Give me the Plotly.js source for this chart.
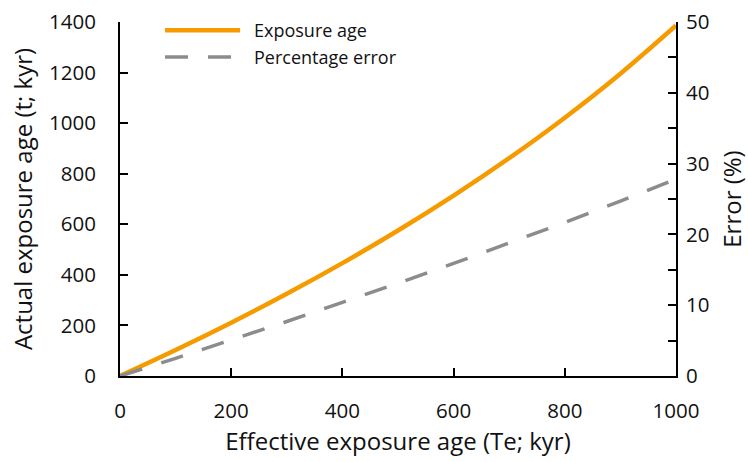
<!DOCTYPE html>
<html>
<head>
<meta charset="utf-8">
<script src="https://cdn.plot.ly/plotly-3.0.1.min.js"></script>
<style>
  html, body { margin: 0; padding: 0; background: #fff; }
  #chart { width: 748px; height: 462px; }
</style>
</head>
<body>
<div id="chart"></div>
<script>
// Effective exposure age (Te; kyr)
const effectiveAge = [0, 100, 200, 300, 400, 500, 600, 700, 800, 900, 1000];
// Actual exposure age (t; kyr)
const actualAge = [0, 102.6, 210.7, 325.0, 446.3, 575.3, 713.3, 861.5, 1021.5, 1195.5, 1386.0];
// Percentage error (%)
const percentError = [0, 2.5, 5.1, 7.7, 10.4, 13.1, 15.9, 18.8, 21.7, 24.7, 27.8];

const seriesNames = ['Exposure age', 'Percentage error'];
const xTicks = [0, 200, 400, 600, 800, 1000];
const yTicks = [0, 200, 400, 600, 800, 1000, 1200, 1400];
const y2Ticks = [0, 10, 20, 30, 40, 50];

const ORANGE = '#F59B00';
const GREY = '#8C8C8C';
const FONT = 'Open Sans, Noto Sans, sans-serif';
const TEXT = '#111';

const traces = [
  {
    x: effectiveAge, y: actualAge, name: seriesNames[0],
    type: 'scatter', mode: 'lines',
    line: { color: ORANGE, width: 4.5, shape: 'spline' },
    yaxis: 'y', showlegend: false, hoverinfo: 'skip'
  },
  {
    x: effectiveAge, y: percentError, name: seriesNames[1],
    type: 'scatter', mode: 'lines',
    line: { color: GREY, width: 3.5, dash: '23px,20px', shape: 'spline' },
    yaxis: 'y2', showlegend: false, hoverinfo: 'skip'
  }
];

const axisCommon = {
  showgrid: false, zeroline: false,
  showline: true, linecolor: '#000', linewidth: 2,
  ticks: 'inside', ticklen: 8, tickwidth: 2, tickcolor: '#000',
  tickfont: { family: FONT, size: 20.5, color: TEXT }
};
const titleFont = { family: FONT, size: 24, color: TEXT };

const layout = {
  width: 748, height: 462,
  margin: { l: 120, r: 72, t: 22, b: 86 },
  paper_bgcolor: '#fff', plot_bgcolor: '#fff',
  font: { family: FONT, color: TEXT },
  showlegend: false,
  xaxis: Object.assign({}, axisCommon, {
    range: [0, 1000], tickvals: xTicks, ticklabelstandoff: 15,
    title: { text: 'Effective exposure age (Te; kyr)', font: titleFont, standoff: 8 }
  }),
  yaxis: Object.assign({}, axisCommon, {
    range: [0, 1400], tickvals: yTicks, ticklabelstandoff: 18,
    title: { text: 'Actual exposure age (t; kyr)', font: titleFont, standoff: 10 }
  }),
  yaxis2: Object.assign({}, axisCommon, {
    overlaying: 'y', side: 'right', anchor: 'x',
    range: [0, 50], tickvals: y2Ticks, ticklabelstandoff: 4,
    minor: { dtick: 5, ticks: 'inside', ticklen: 8, tickwidth: 2, tickcolor: '#000' },
    title: { text: 'Error (%)', font: titleFont, standoff: 16 }
  }),
  // legend drawn as line samples with labels beside them
  shapes: [
    { type: 'line', xref: 'paper', yref: 'paper', x0: 0.081, x1: 0.216, y0: 0.977, y1: 0.977,
      line: { color: ORANGE, width: 4.5 } },
    { type: 'line', xref: 'paper', yref: 'paper', x0: 0.081, x1: 0.216, y0: 0.901, y1: 0.901,
      line: { color: GREY, width: 3.5, dash: '23px,20px' } }
  ],
  annotations: [
    { xref: 'paper', yref: 'paper', x: 0.238, y: 0.977, xanchor: 'left', yanchor: 'middle',
      text: seriesNames[0], showarrow: false, font: { family: FONT, size: 18, color: TEXT } },
    { xref: 'paper', yref: 'paper', x: 0.238, y: 0.901, xanchor: 'left', yanchor: 'middle',
      text: seriesNames[1], showarrow: false, font: { family: FONT, size: 18, color: TEXT } }
  ]
};

Plotly.newPlot('chart', traces, layout, { displayModeBar: false, staticPlot: true });
</script>
</body>
</html>
